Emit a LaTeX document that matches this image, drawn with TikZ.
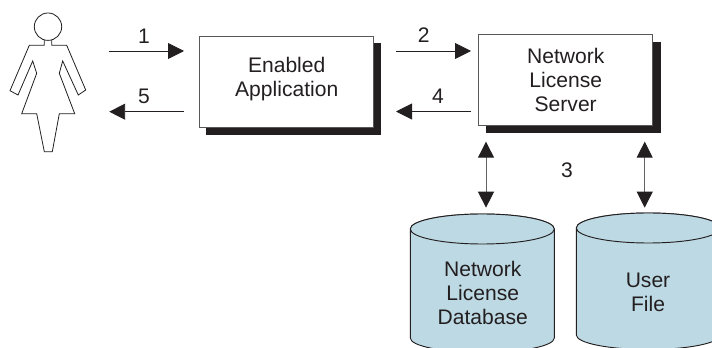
\documentclass[tikz,border=0pt]{standalone}
\usepackage{fontspec}
\setmainfont{Liberation Sans}
\usetikzlibrary{arrows.meta}
\definecolor{dbblue}{HTML}{BDD9E4}
\definecolor{ink}{HTML}{231F20}
\tikzset{
  x=0.75pt,y=-0.75pt,
  txt/.style={font=\fontsize{15.8pt}{18pt}\selectfont,text=ink,align=center,inner sep=0pt},
  boxb/.style={draw=ink!75,line width=0.75pt,fill=white,inner sep=0pt,minimum width=130.5pt,minimum height=68pt,anchor=north west},
  shade/.style={fill=ink,draw=none},
  hole/.style={draw=none,fill=none,inner sep=0pt,anchor=north west},
  link/.style={draw=ink,line width=0.7pt,-{Triangle[length=12pt,width=12pt]}},
  dlink/.style={draw=ink!70,line width=0.7pt,{Triangle[length=12pt,width=12pt,color=ink,fill=ink]}-{Triangle[length=12pt,width=12pt,color=ink,fill=ink]}},
  dbl/.style={draw=ink,line width=0.7pt,fill=dbblue},
  fig/.style={draw=ink,line width=0.6pt,fill=white,line join=miter}
}
\begin{document}
\begin{tikzpicture}
\useasboundingbox (0,0) rectangle (712,348);
% person
\draw[fig] (44.3,39) -- (44.3,45.3) -- (29.3,45.3) -- (10,90.7) -- (18,95) -- (32.7,61) -- (36.7,73.3) -- (21.7,113.7) -- (36.7,113.7) -- (44.3,151.7) -- (52.3,151.7) -- (59.3,113.7) -- (74.7,113.7) -- (59.3,73.3) -- (62.7,61) -- (78.3,95) -- (85.7,90) -- (66.7,45.3) -- (51.7,45.3) -- (51.7,39) -- cycle;
\draw[fig] (48,26.7) circle (13.7);
\node[hole,minimum width=57.5pt,minimum height=105pt] (person) at (10,13) {};
% boxes
\fill[shade] (206,43) rectangle (381,134.7);
\node[boxb] (app) at (199,36) {};
\fill[shade] (485.7,41.7) rectangle (660.7,133);
\node[boxb] (srv) at (478,34) {};
\node[txt] (apptxt) at (286.7,79.5) {Enabled\\Application};
\node[txt] (srvtxt) at (565.7,80) {Network\\License\\Server};
% cylinders
\path[dbl] (410.3,229) -- (410.3,338) arc[start angle=180,end angle=0,x radius=72,y radius=14.5] -- (554.3,229) arc[start angle=0,end angle=-180,x radius=72,y radius=15] -- cycle;
\draw[dbl] (482.3,229) ellipse [x radius=72,y radius=15];
\path[dbl] (576.3,228) -- (576.3,335) arc[start angle=180,end angle=0,x radius=72,y radius=14.5] -- (720.3,228) arc[start angle=0,end angle=-180,x radius=72,y radius=15] -- cycle;
\draw[dbl] (648.3,228) ellipse [x radius=72,y radius=15];
\node[hole,minimum width=108pt,minimum height=100pt] (db) at (410.3,214) {};
\node[hole,minimum width=108pt,minimum height=100pt] (uf) at (576.3,213) {};
\node[txt] (dbtxt) at (482.7,293) {Network\\License\\Database};
\node[txt] (uftxt) at (648,292.5) {User\\File};
% connectors
\draw[link,shorten <=16.5pt,shorten >=11.25pt] (person.east |- 0,51) -- (app.west |- 0,51);
\draw[link,shorten <=11.25pt,shorten >=16.5pt] (app.west |- 0,111.7) -- (person.east |- 0,111.7);
\draw[link,shorten <=16.5pt,shorten >=5.25pt] (app.east |- 0,51) -- (srv.west |- 0,51);
\draw[link,shorten <=5.25pt,shorten >=16.5pt] (srv.west |- 0,111.5) -- (app.east |- 0,111.5);
\draw[dlink,shorten <=12pt,shorten >=4.75pt] (srv.south -| 486,0) -- (db.north -| 486,0);
\draw[dlink,shorten <=12pt,shorten >=4pt] (srv.south -| 644.7,0) -- (uf.north -| 644.7,0);
\node[txt] (n1) at (144,36.5) {1};
\node[txt] (n5) at (144,96) {5};
\node[txt] (n2) at (423.7,34.7) {2};
\node[txt] (n4) at (438,96) {4};
\node[txt] (n3) at (567,170.7) {3};
\end{tikzpicture}
\end{document}
